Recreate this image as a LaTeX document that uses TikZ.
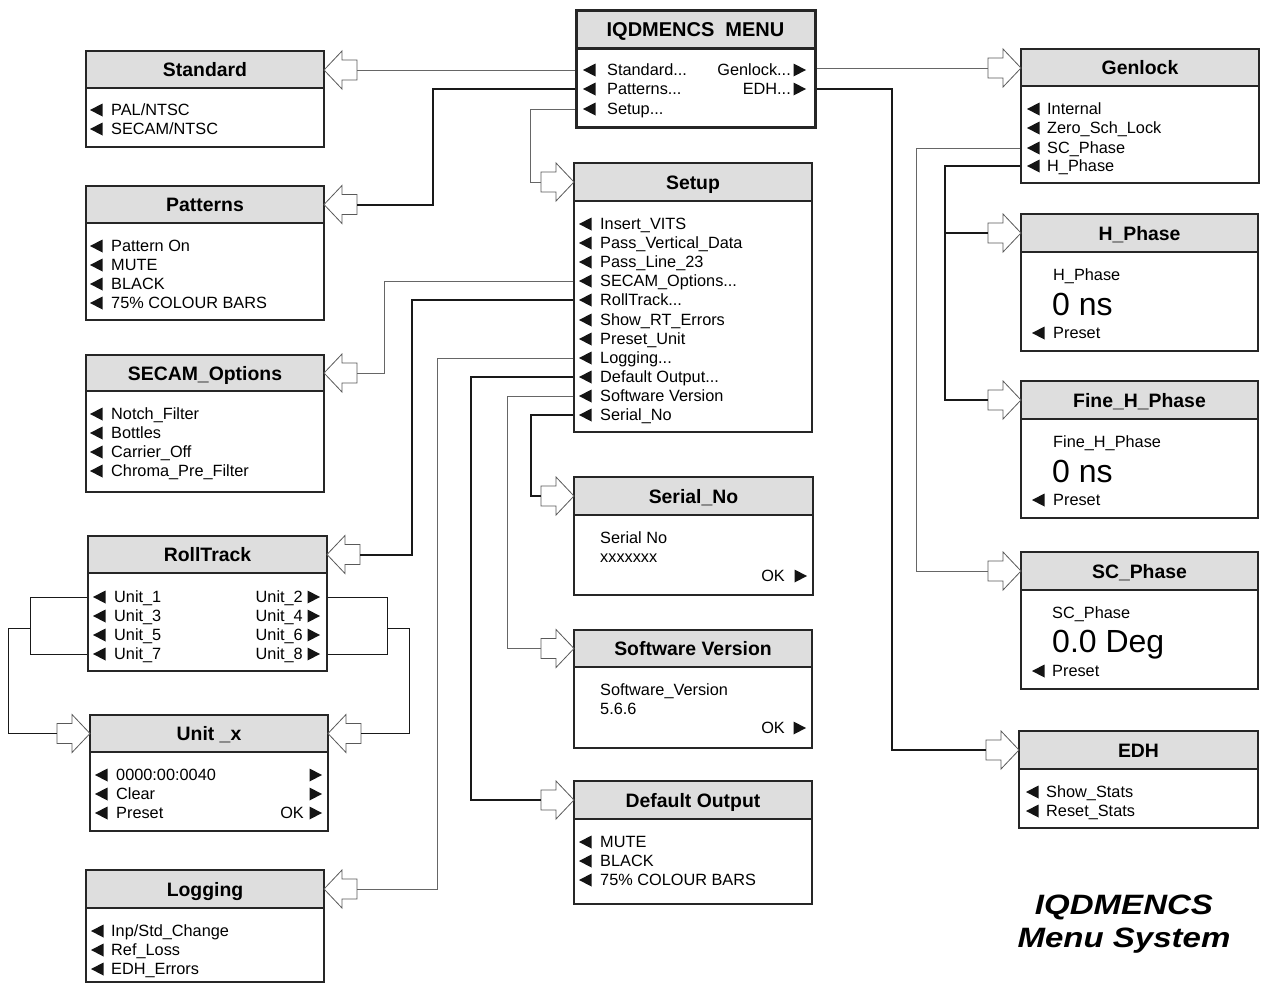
\documentclass[tikz,border=0pt]{standalone}
\usepackage{fontspec}
\setmainfont{Liberation Sans}
\usetikzlibrary{fit}
\tikzset{
  band/.style={fill=black!13},
  boxframe/.style={draw=black!85, line width=1.5pt, inner sep=0pt},
  ttl/.style={font=\fontsize{19.4}{19.4}\selectfont\bfseries, anchor=base, inner sep=0pt},
  itm/.style={font=\fontsize{16.3}{16.3}\selectfont, anchor=base west, inner sep=0pt},
  itmr/.style={itm, anchor=base east},
  bigtxt/.style={font=\fontsize{32}{32}\selectfont, anchor=base west, inner sep=0pt},
  captxt/.style={font=\fontsize{28}{28}\selectfont\bfseries\itshape, xscale=1.18, anchor=base, inner sep=0pt},
  tri/.style={fill=black!92},
  lnthin/.style={draw=black!60, line width=1pt},
  lnthick/.style={draw=black!90, line width=2pt},
  lnblk/.style={draw=black!90, line width=1pt},
  harrow/.style={draw=black!65, fill=white, line width=0.8pt, line join=miter},
}
% box: [frame opts] name x1 y1 x2 y2 ybar title
\newcommand\mbx[8][]{%
  \fill[band] (#3,#4) rectangle (#5,#7);
  \coordinate (#2-a) at (#3,#4); \coordinate (#2-b) at (#5,#6);
  \node[boxframe,fit=(#2-a)(#2-b),#1] (#2) {};
  \draw[boxframe,#1] (#3,#7) -- (#5,#7);
  \node[ttl] (#2-t) at ({(#3+#5)/2},{(#4+#7)/2+7}) {#8};
}
% left item: name tri-x text-x yc text
\newcommand\li[5]{%
  \fill[tri] (#2,#4) -- ++(12.5,-6.5) -- ++(0,13) -- cycle;
  \coordinate (#1) at (#2,#4);
  \node[itm] (#1-x) at (#3,{#4+5.7}) {#5};
}
% right item: name tri-tip-x text-right-x yc text
\newcommand\ri[5]{%
  \fill[tri] (#2,#4) -- ++(-12.5,-6.5) -- ++(0,13) -- cycle;
  \coordinate (#1) at (#2,#4);
  \node[itmr] (#1-x) at (#3,{#4+5.7}) {#5};
}
% plain text: name x yc text
\newcommand\ptx[4]{\node[itm] (#1) at (#2,{#3+5.7}) {#4};}
% hollow arrows: name tip-x y
\newcommand\arR[3]{%
  \draw[harrow] (#2,#3) -- ++(-18,-19) -- ++(0,9) -- ++(-15,0) -- ++(0,20) -- ++(15,0) -- ++(0,9) -- cycle;
  \coordinate (#1) at ({#2-33},#3);
}
\newcommand\arL[3]{%
  \draw[harrow] (#2,#3) -- ++(18,-19) -- ++(0,9) -- ++(15,0) -- ++(0,20) -- ++(-15,0) -- ++(0,9) -- cycle;
  \coordinate (#1) at ({#2+33},#3);
}
\begin{document}
\begin{tikzpicture}[x=1pt,y=-1pt]
\useasboundingbox (0,0) rectangle (1262,983);

% ---------- main menu
\mbx[line width=3pt]{menu}{576}{10}{815}{127}{48}{\fontsize{20}{20}\selectfont IQDMENCS\hspace{0.55em}MENU}
\li{m-std}{583}{607}{70}{Standard...}
\li{m-pat}{583}{607}{89}{Patterns...}
\li{m-set}{583}{607}{109}{Setup...}
\ri{m-gen}{806}{791}{70}{Genlock...}
\ri{m-edh}{806}{791}{89}{EDH...}

% ---------- left column
\mbx{std}{86}{51}{324}{147}{88}{Standard}
\li{std1}{90}{111}{110}{PAL/NTSC}
\li{std2}{90}{111}{129}{SECAM/NTSC}

\mbx{pat}{86}{186}{324}{320}{223}{Patterns}
\li{pat1}{90}{111}{246}{Pattern On}
\li{pat2}{90}{111}{265}{MUTE}
\li{pat3}{90}{111}{284}{BLACK}
\li{pat4}{90}{111}{303}{75\% COLOUR BARS}

\mbx{sec}{86}{355}{324}{492}{391}{SECAM\_Options}
\li{sec1}{90}{111}{414}{Notch\_Filter}
\li{sec2}{90}{111}{433}{Bottles}
\li{sec3}{90}{111}{452}{Carrier\_Off}
\li{sec4}{90}{111}{471}{Chroma\_Pre\_Filter}

\mbx{rt}{88}{536}{327}{671}{573}{RollTrack}
\li{r1}{93}{114}{597}{Unit\_1}
\li{r3}{93}{114}{616}{Unit\_3}
\li{r5}{93}{114}{635}{Unit\_5}
\li{r7}{93}{114}{654}{Unit\_7}
\ri{r2}{320}{303}{597}{Unit\_2}
\ri{r4}{320}{303}{616}{Unit\_4}
\ri{r6}{320}{303}{635}{Unit\_6}
\ri{r8}{320}{303}{654}{Unit\_8}

\mbx{ux}{90}{715}{328}{831}{752}{Unit \_x}
\li{u1}{95}{116}{775}{0000:00:0040}
\li{u2}{95}{116}{794}{Clear}
\li{u3}{95}{116}{813}{Preset}
\ri{u4}{322}{304}{775}{}
\ri{u5}{322}{304}{794}{}
\ri{u6}{322}{304}{813}{OK}

\mbx{log}{86}{870}{324}{982}{908}{Logging}
\li{lg1}{91}{111}{931}{Inp/Std\_Change}
\li{lg2}{91}{111}{950}{Ref\_Loss}
\li{lg3}{91}{111}{969}{EDH\_Errors}

% ---------- middle column
\mbx{set}{574}{163}{812}{432}{201}{Setup}
\li{s1}{579}{600}{224}{Insert\_VITS}
\li{s2}{579}{600}{243}{Pass\_Vertical\_Data}
\li{s3}{579}{600}{262}{Pass\_Line\_23}
\li{s-sec}{579}{600}{281}{SECAM\_Options...}
\li{s-rt}{579}{600}{300}{RollTrack...}
\li{s6}{579}{600}{320}{Show\_RT\_Errors}
\li{s7}{579}{600}{339}{Preset\_Unit}
\li{s-log}{579}{600}{358}{Logging...}
\li{s-def}{579}{600}{377}{Default Output...}
\li{s-sw}{579}{600}{396}{Software Version}
\li{s-ser}{579}{600}{415}{Serial\_No}

\mbx{ser}{574}{477}{813}{595}{515}{Serial\_No}
\ptx{ser1}{600}{538}{Serial No}
\ptx{ser2}{600}{557}{xxxxxxx}
\ri{ser3}{807}{785}{576}{OK}

\mbx{sw}{574}{630}{812}{748}{667}{Software Version}
\ptx{sw1}{600}{690}{Software\_Version}
\ptx{sw2}{600}{709}{5.6.6}
\ri{sw3}{806}{785}{728}{OK}

\mbx{def}{574}{781}{812}{904}{819}{Default Output}
\li{d1}{579}{600}{842}{MUTE}
\li{d2}{579}{600}{861}{BLACK}
\li{d3}{579}{600}{880}{75\% COLOUR BARS}

% ---------- right column
\mbx{gen}{1021}{49}{1259}{183}{86}{Genlock}
\li{g1}{1027}{1047}{109}{Internal}
\li{g2}{1027}{1047}{128}{Zero\_Sch\_Lock}
\li{g-sc}{1027}{1047}{148}{SC\_Phase}
\li{g-h}{1027}{1047}{166}{H\_Phase}

\mbx{hph}{1021}{214}{1258}{351}{252}{H\_Phase}
\ptx{h1}{1053}{275}{H\_Phase}
\node[bigtxt] (h2) at (1052,315) {0 ns};
\li{h3}{1032}{1053}{333}{Preset}

\mbx{fph}{1021}{381}{1258}{518}{419}{Fine\_H\_Phase}
\ptx{f1}{1053}{442}{Fine\_H\_Phase}
\node[bigtxt] (f2) at (1052,482) {0 ns};
\li{f3}{1032}{1053}{500}{Preset}

\mbx{scp}{1021}{552}{1258}{689}{590}{SC\_Phase}
\ptx{c1}{1052}{613}{SC\_Phase}
\node[bigtxt] (c2) at (1052,652) {0.0 Deg};
\li{c3}{1032}{1052}{671}{Preset}

\mbx{edh}{1019}{731}{1258}{828}{769}{EDH}
\li{e1}{1026}{1046}{792}{Show\_Stats}
\li{e2}{1026}{1046}{811}{Reset\_Stats}

% ---------- caption
\node[captxt] (cap1) at (1124,914) {IQDMENCS};
\node[captxt] (cap2) at (1124,947) {Menu System};

% ---------- connectors from main menu
\arL{a-std}{324}{70}
\draw[lnthin] (m-std -| menu.west) -- (a-std);
\arL{a-pat}{324}{204.5}
\draw[lnthick] (m-pat -| menu.west) -| (433,204.5) -- (a-pat);
\arR{a-set}{574}{182}
\draw[lnthin] (m-set -| menu.west) -| (530,182) -- (a-set);
\arR{a-gen}{1021}{68}
\draw[lnthin] (menu.east |- a-gen) -- (a-gen);
\arR{a-edh}{1019}{750}
\draw[lnthick] (m-edh -| menu.east) -| (892,750) -- (a-edh);

% ---------- Genlock
\arR{a-scp}{1021}{571}
\draw[lnthin] (g-sc -| gen.west) -| (916,571) -- (a-scp);
\arR{a-hph}{1021}{233}
\arR{a-fph}{1021}{400}
\draw[lnthick] (g-h -| gen.west) -| (945,400) -- (a-fph);
\draw[lnthick] (945,233) -- (a-hph);

% ---------- Setup
\arL{a-sec}{324}{373}
\draw[lnthin] (s-sec -| set.west) -| (384,373) -- (a-sec);
\arL{a-rt}{327}{554.5}
\draw[lnthick] (s-rt -| set.west) -| (412,554.5) -- (a-rt);
\arL{a-log}{324}{889}
\draw[lnthin] (s-log -| set.west) -| (437,889) -- (a-log);
\arR{a-def}{574}{800}
\draw[lnthick] (s-def -| set.west) -| (471,800) -- (a-def);
\arR{a-sw}{574}{648.5}
\draw[lnthin] (s-sw -| set.west) -| (507,648.5) -- (a-sw);
\arR{a-ser}{574}{496}
\draw[lnthick] (s-ser -| set.west) -| (531,496) -- (a-ser);

% ---------- RollTrack -> Unit_x
\arR{a-uxl}{90}{733.5}
\arL{a-uxr}{328}{733.5}
\draw[lnblk] (r1 -| rt.west) -- (30,597) -- (30,654) -- (r7 -| rt.west);
\draw[lnblk] (30,628) -- (8,628) |- (a-uxl);
\draw[lnblk] (r2 -| rt.east) -- (387,597) -- (387,654) -- (r8 -| rt.east);
\draw[lnblk] (387,628) -- (409,628) |- (a-uxr);
\end{tikzpicture}
\end{document}
